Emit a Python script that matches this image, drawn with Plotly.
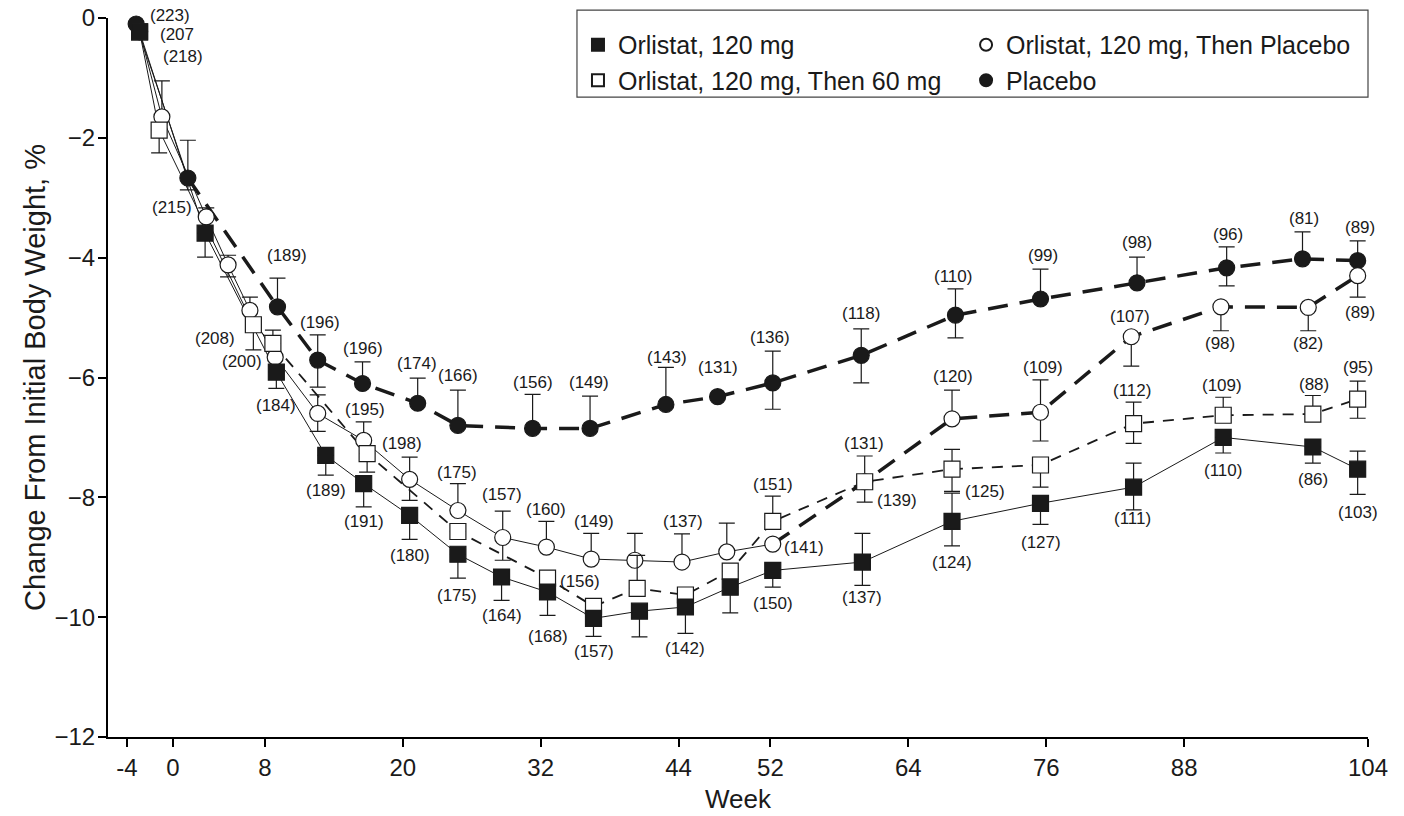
import plotly.graph_objects as go

# ---------------- data ----------------
# Orlistat, 120 mg (filled squares)
o120_week = [-2.9, 2.8, 9.0, 13.3, 16.6, 20.6, 24.8, 28.6, 32.6, 36.6, 40.6, 44.6, 48.5, 52.2,
             60.0, 67.8, 75.5, 83.6, 91.4, 99.2, 103.1]
o120_change = [-0.23, -3.59, -5.91, -7.30, -7.77, -8.30, -8.95, -9.33, -9.58, -10.02, -9.90, -9.83,
               -9.50, -9.22, -9.08, -8.40, -8.10, -7.83, -7.00, -7.16, -7.53]
o120_err_up = [0, 0, 0, 0, 0, 0, 0, 0, 0, 0, 0, 0, 0, 0, 0.48, 0.47, 0, 0.40, 0, 0, 0.30]
o120_err_dn = [0, 0.40, 0.27, 0.33, 0.39, 0.40, 0.40, 0.39, 0.39, 0.30, 0.43, 0.44, 0.43, 0.28,
               0.39, 0.41, 0.35, 0.38, 0.26, 0.27, 0.42]

# Orlistat, 120 mg, Then Placebo (open circles)
o120p_week = [-2.9, -0.96, 2.9, 4.8, 6.7, 8.9, 12.6, 16.6, 20.6, 24.8, 28.7, 32.5, 36.4, 40.2,
              44.3, 48.2, 52.2, 60.2, 67.8, 75.5, 83.4, 91.2, 98.8, 103.1]
o120p_change = [-0.23, -1.65, -3.32, -4.12, -4.88, -5.66, -6.60, -7.05, -7.70, -8.22, -8.67, -8.83,
                -9.03, -9.05, -9.08, -8.91, -8.78, -7.74, -6.69, -6.58, -5.32, -4.82, -4.83, -4.30]
o120p_err_up = [0, 0.60, 0.15, 0.16, 0.22, 0, 0.31, 0.31, 0.37, 0.45, 0.44, 0.43, 0.43, 0.45,
                0.47, 0.48, 0, 0, 0.48, 0.54, 0, 0, 0, 0]
o120p_err_dn = [0, 0, 0, 0.20, 0, 0, 0.30, 0, 0.35, 0, 0.38, 0, 0, 0, 0, 0, 0, 0, 0, 0.48,
                0.49, 0.40, 0.39, 0.36]

# Orlistat, 120 mg, Then 60 mg (open squares)
o60_week = [-2.9, -1.2, 7.0, 8.7, 16.9, 24.8, 32.6, 36.6, 40.4, 44.6, 48.5, 52.2, 60.2, 67.8,
            75.5, 83.6, 91.4, 99.2, 103.1]
o60_change = [-0.23, -1.87, -5.12, -5.43, -7.27, -8.57, -9.35, -9.82, -9.52, -9.63, -9.23, -8.40,
              -7.74, -7.53, -7.46, -6.77, -6.63, -6.61, -6.36]
o60_err_up = [0, 0, 0, 0.22, 0, 0, 0, 0, 0.55, 0, 0, 0.42, 0.43, 0.33, 0, 0.36, 0.30, 0.31, 0.30]
o60_err_dn = [0, 0.38, 0.42, 0, 0.31, 0, 0, 0, 0, 0, 0, 0, 0.34, 0.37, 0.37, 0.33, 0, 0, 0.32]

# Placebo (filled circles)
plac_week = [-3.2, 1.3, 9.1, 12.6, 16.5, 21.3, 24.8, 31.3, 36.3, 42.9, 47.4, 52.2, 59.9, 68.1,
             75.5, 83.9, 91.7, 98.3, 103.1]
plac_change = [-0.10, -2.67, -4.82, -5.71, -6.10, -6.43, -6.80, -6.85, -6.85, -6.45, -6.32, -6.09,
               -5.63, -4.96, -4.69, -4.42, -4.17, -4.02, -4.05]
plac_err_up = [0, 0.63, 0.48, 0.42, 0.36, 0.42, 0.59, 0.57, 0.54, 0.62, 0, 0.53, 0.44, 0.44,
               0.50, 0.43, 0.35, 0.45, 0.33]
plac_err_dn = [0, 0.20, 0, 0.45, 0, 0, 0, 0, 0, 0, 0, 0.44, 0.46, 0.38, 0, 0, 0.30, 0, 0]

# numbers of patients (label text, week, change)
n_text = ["(223)", "(207", "(218)", "(215)", "(189)", "(196)", "(208)", "(200)", "(184)", "(196)",
          "(174)", "(166)", "(195)", "(189)", "(198)", "(191)", "(175)", "(157)", "(180)", "(175)",
          "(164)", "(156)", "(149)", "(143)", "(131)", "(136)", "(160)", "(149)", "(137)", "(151)",
          "(141)", "(156)", "(150)", "(168)", "(157)", "(142)", "(118)", "(110)", "(99)", "(120)",
          "(109)", "(131)", "(139)", "(125)", "(124)", "(127)", "(137)", "(98)", "(96)", "(81)",
          "(89)", "(89)", "(107)", "(98)", "(82)", "(112)", "(109)", "(88)", "(95)", "(111)",
          "(110)", "(86)", "(103)"]
n_week = [-0.26, 0.35, 0.87, -0.09, 9.9, 12.8, 3.7, 6.0, 9.0, 16.5,
          21.2, 24.8, 16.7, 13.3, 19.9, 16.6, 24.7, 28.6, 20.6, 24.7,
          28.6, 31.3, 36.2, 43.0, 47.4, 52.0, 32.5, 36.6, 44.4, 52.2,
          54.9, 35.4, 52.2, 32.6, 36.6, 44.6, 59.9, 67.9, 75.7, 67.9,
          75.7, 60.1, 63.0, 70.7, 67.8, 75.5, 60.0, 83.9, 91.8, 98.4,
          103.3, 103.3, 83.3, 91.1, 98.8, 83.5, 91.3, 99.3, 103.1, 83.5,
          91.4, 99.2, 103.1]
n_change = [0.0, -0.28, -0.65, -3.17, -3.96, -5.09, -5.35, -5.74, -6.46, -5.51,
            -5.77, -5.96, -6.54, -7.88, -7.10, -8.40, -7.58, -7.96, -8.97, -9.63,
            -9.97, -6.08, -6.08, -5.66, -5.84, -5.34, -8.21, -8.41, -8.41, -7.78,
            -8.83, -9.40, -9.77, -10.33, -10.58, -10.52, -4.93, -4.32, -3.96, -5.99,
            -5.83, -7.10, -8.06, -7.91, -9.08, -8.75, -9.68, -3.74, -3.61, -3.34,
            -3.49, -4.91, -4.99, -5.43, -5.43, -6.21, -6.14, -6.11, -5.83, -8.35,
            -7.55, -7.71, -8.25]

week_ticks = [-4, 0, 8, 20, 32, 44, 52, 64, 76, 88, 104]
change_ticks = [0, -2, -4, -6, -8, -10, -12]

# ---------------- figure ----------------
FONT = "Liberation Sans, Arial, Helvetica, sans-serif"
INK = "#1a1a1a"
fig = go.Figure()


def line_seg(x, y, width, dash, group):
    fig.add_trace(go.Scatter(x=x, y=y, mode="lines", line=dict(color=INK, width=width, dash=dash),
                             showlegend=False, legendgroup=group, hoverinfo="skip",
                             cliponaxis=False))


# connecting lines (drawn under the markers)
line_seg(plac_week[:2], plac_change[:2], 1, "solid", "plac")
line_seg(plac_week[1:], plac_change[1:], 3.5, "20px,12px", "plac")
k = o120p_week.index(52.2)
line_seg(o120p_week[:k + 1], o120p_change[:k + 1], 1, "solid", "o120p")
line_seg(o120p_week[k:], o120p_change[k:], 3.5, "20px,12px", "o120p")
j = o60_week.index(8.7)
line_seg(o60_week[:j + 1], o60_change[:j + 1], 1, "solid", "o60")
line_seg(o60_week[j:], o60_change[j:], 1.8, "11px,9px", "o60")
line_seg(o120_week, o120_change, 1, "solid", "o120")


def err(up, dn):
    return dict(type="data", symmetric=False, array=up, arrayminus=dn,
                color=INK, thickness=1.2, width=8)


def markers(x, y, up, dn, name, symbol, fill, group, legend, rank):
    fig.add_trace(go.Scatter(
        x=x, y=y, mode="markers", name=name, legendgroup=group, legend=legend, legendrank=rank,
        marker=dict(symbol=symbol, size=16, color=fill, line=dict(color=INK, width=1.2)),
        error_y=err(up, dn), cliponaxis=False))


markers(plac_week, plac_change, plac_err_up, plac_err_dn, "Placebo", "circle", INK,
        "plac", "legend2", 2)
markers(o120p_week, o120p_change, o120p_err_up, o120p_err_dn, "Orlistat, 120 mg, Then Placebo",
        "circle", "white", "o120p", "legend2", 1)
markers(o60_week, o60_change, o60_err_up, o60_err_dn, "Orlistat, 120 mg, Then 60 mg",
        "square", "white", "o60", "legend", 2)
markers(o120_week, o120_change, o120_err_up, o120_err_dn, "Orlistat, 120 mg",
        "square", INK, "o120", "legend", 1)

for t, xw, yc in zip(n_text, n_week, n_change):
    fig.add_annotation(x=xw, y=yc, text=t, showarrow=False, xref="x", yref="y",
                       yshift=3 if yc >= 0 else 0,
                       font=dict(size=17, color=INK, family=FONT))

# legend frame
fig.add_shape(type="rect", xref="paper", yref="paper", x0=0.3722, x1=1.0, y0=0.890, y1=1.011,
              line=dict(color="#444", width=1.2), fillcolor="white", layer="above")

leg_common = dict(font=dict(size=25, color=INK, family=FONT), bgcolor="rgba(0,0,0,0)",
                  borderwidth=0, yanchor="top", xanchor="left", tracegroupgap=0,
                  traceorder="grouped", itemsizing="constant")

fig.update_layout(
    width=1404, height=816,
    margin=dict(l=108, r=36, t=18, b=79),
    paper_bgcolor="white", plot_bgcolor="white",
    font=dict(family=FONT, color=INK),
    legend=dict(x=0.373, y=0.9945, **leg_common),
    legend2=dict(x=0.681, y=0.9945, **leg_common),
    xaxis=dict(range=[-5.65, 104], tickvals=week_ticks, ticktext=[str(v) for v in week_ticks],
               showline=True, linecolor="black", linewidth=2, ticks="outside", ticklen=8,
               tickwidth=1.5, tickcolor="black", showgrid=False, zeroline=False, automargin=False,
               tickfont=dict(size=24, family=FONT, color=INK), ticklabeloverflow="allow",
               title=dict(text="Week", font=dict(size=26, family=FONT, color=INK), standoff=10)),
    yaxis=dict(range=[-12, 0], tickvals=change_ticks, showline=True, linecolor="black",
               linewidth=2, ticks="outside", ticklen=8, tickwidth=1.5, tickcolor="black",
               showgrid=False, zeroline=False, automargin=False, ticklabelstandoff=-2,
               ticklabeloverflow="allow",
               tickfont=dict(size=24, family=FONT, color=INK),
               title=dict(text="Change From Initial Body Weight, %",
                          font=dict(size=29, family=FONT, color=INK), standoff=0)),
)

# remove the browser's default 8 px body margin so the figure fills the window exactly
fig.write_html("out.html", config={"displayModeBar": False},
               post_script="document.body.style.margin='0';")
